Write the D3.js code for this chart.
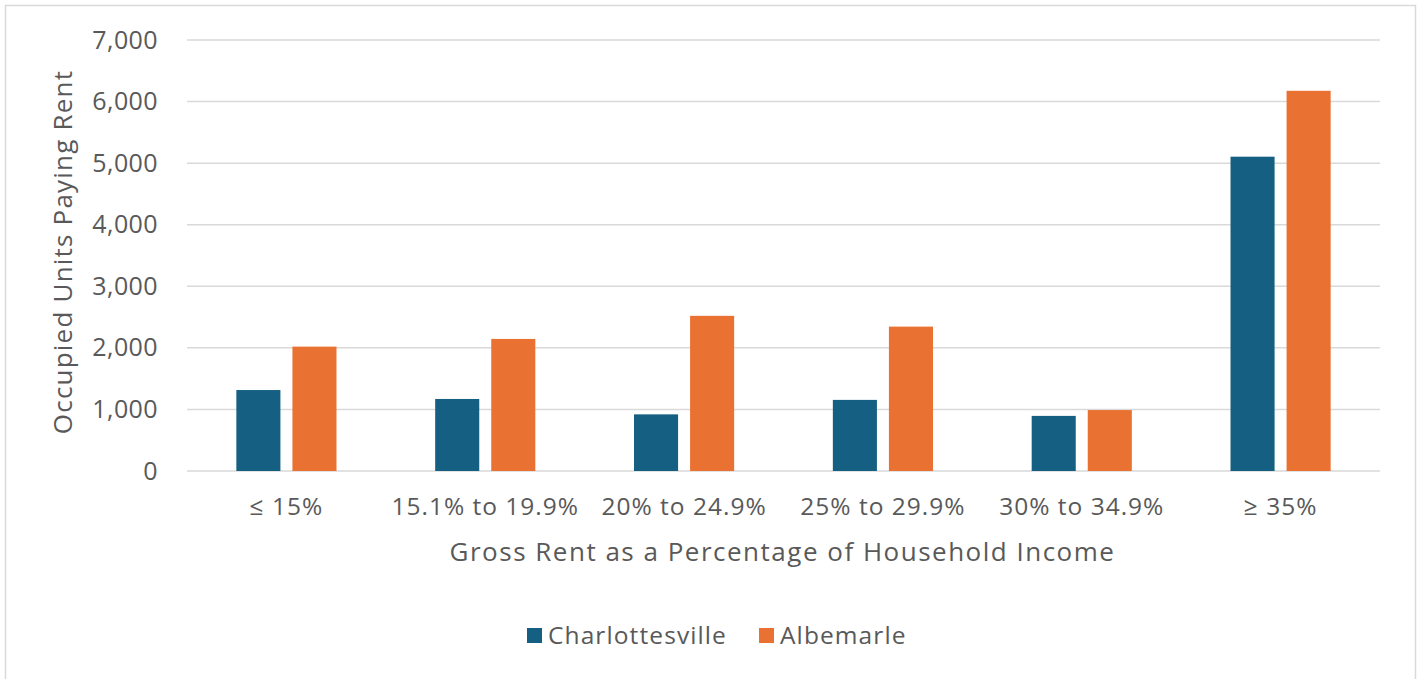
<!DOCTYPE html>
<html>
<head>
<meta charset="utf-8">
<script src="https://cdn.jsdelivr.net/npm/d3@7"></script>
<style>
  body { margin: 0; background: #fff; }
  text { font-family: "Open Sans", "Liberation Sans", Arial, sans-serif; fill: #595959; }
</style>
</head>
<body>
<div id="main"></div>
<script>
// data
const categories = ['≤ 15%', '15.1% to 19.9%', '20% to 24.9%', '25% to 29.9%', '30% to 34.9%', '≥ 35%'];
const seriesNames = ['Charlottesville', 'Albemarle'];
const charlottesville = [1315, 1170, 920, 1155, 895, 5105];
const albemarle = [2020, 2145, 2520, 2345, 990, 6175];
const yTicks = [0, 1000, 2000, 3000, 4000, 5000, 6000, 7000];
const colors = ['#156082', '#E97132'];

const w = 1423, h = 679;
const plotLeft = 187, plotRight = 1380, plotTop = 40, plotBottom = 471;

const svg = d3.select('#main').append('svg')
    .attr('width', w)
    .attr('height', h);

// chart border
svg.append('rect')
    .attr('x', 5.5).attr('y', 5.5)
    .attr('width', 1410).attr('height', 700)
    .attr('fill', 'none')
    .attr('stroke', '#d9d9d9')
    .attr('stroke-width', 1.5);

const x0 = d3.scaleBand().domain(categories).range([plotLeft, plotRight]);
const x1 = d3.scaleBand().domain(seriesNames).range([0, x0.bandwidth()])
    .paddingInner(0.214).paddingOuter(0.88);
const y = d3.scaleLinear().domain([0, 7000]).range([plotBottom, plotTop]);

// gridlines
svg.append('g')
    .selectAll('line')
    .data(yTicks)
    .enter().append('line')
    .attr('x1', plotLeft).attr('x2', plotRight)
    .attr('y1', d => y(d)).attr('y2', d => y(d))
    .attr('stroke', '#d9d9d9')
    .attr('stroke-width', 1.5);

// y axis labels
const yAxis = d3.axisLeft(y).tickValues(yTicks).tickFormat(d3.format(',')).tickSize(0).tickPadding(29);
svg.append('g')
    .attr('transform', 'translate(' + plotLeft + ',0)')
    .call(yAxis)
    .call(g => g.select('.domain').remove())
    .selectAll('text')
    .style('font-size', '25px')
    .style('letter-spacing', '0.4px')
    .attr('fill', '#595959');

// bars
const rows = categories.map((c, i) => ({ cat: c, vals: [charlottesville[i], albemarle[i]] }));
const groups = svg.append('g').selectAll('g')
    .data(rows)
    .enter().append('g')
    .attr('transform', d => 'translate(' + x0(d.cat) + ',0)');

groups.selectAll('rect')
    .data(d => d.vals.map((v, j) => ({ name: seriesNames[j], v: v, j: j })))
    .enter().append('rect')
    .attr('x', d => x1(d.name))
    .attr('y', d => y(d.v))
    .attr('width', x1.bandwidth())
    .attr('height', d => plotBottom - y(d.v))
    .attr('fill', d => colors[d.j]);

// x axis labels
const xAxis = d3.axisBottom(x0).tickSize(0).tickPadding(0);
svg.append('g')
    .attr('transform', 'translate(0,' + plotBottom + ')')
    .call(xAxis)
    .call(g => g.select('.domain').remove())
    .selectAll('text')
    .attr('dy', null)
    .attr('y', 44)
    .style('font-size', '24.5px')
    .style('letter-spacing', '1px')
    .attr('fill', '#595959');

// axis titles
svg.append('text')
    .attr('x', (plotLeft + plotRight) / 2 - 1)
    .attr('y', 561)
    .attr('text-anchor', 'middle')
    .style('font-size', '26px')
    .style('letter-spacing', '1.5px')
    .text('Gross Rent as a Percentage of Household Income');

svg.append('text')
    .attr('transform', 'translate(72,252) rotate(-90)')
    .attr('text-anchor', 'middle')
    .style('font-size', '26px')
    .style('letter-spacing', '1.2px')
    .text('Occupied Units Paying Rent');

// legend
const legendX = [527, 759];
const legend = svg.append('g').selectAll('g')
    .data(seriesNames)
    .enter().append('g')
    .attr('transform', (d, i) => 'translate(' + legendX[i] + ',628)');
legend.append('rect')
    .attr('width', 15).attr('height', 15)
    .attr('fill', (d, i) => colors[i]);
legend.append('text')
    .attr('x', 21).attr('y', 16)
    .style('font-size', '24.5px')
    .style('letter-spacing', '1.1px')
    .text(d => d);
</script>
</body>
</html>
